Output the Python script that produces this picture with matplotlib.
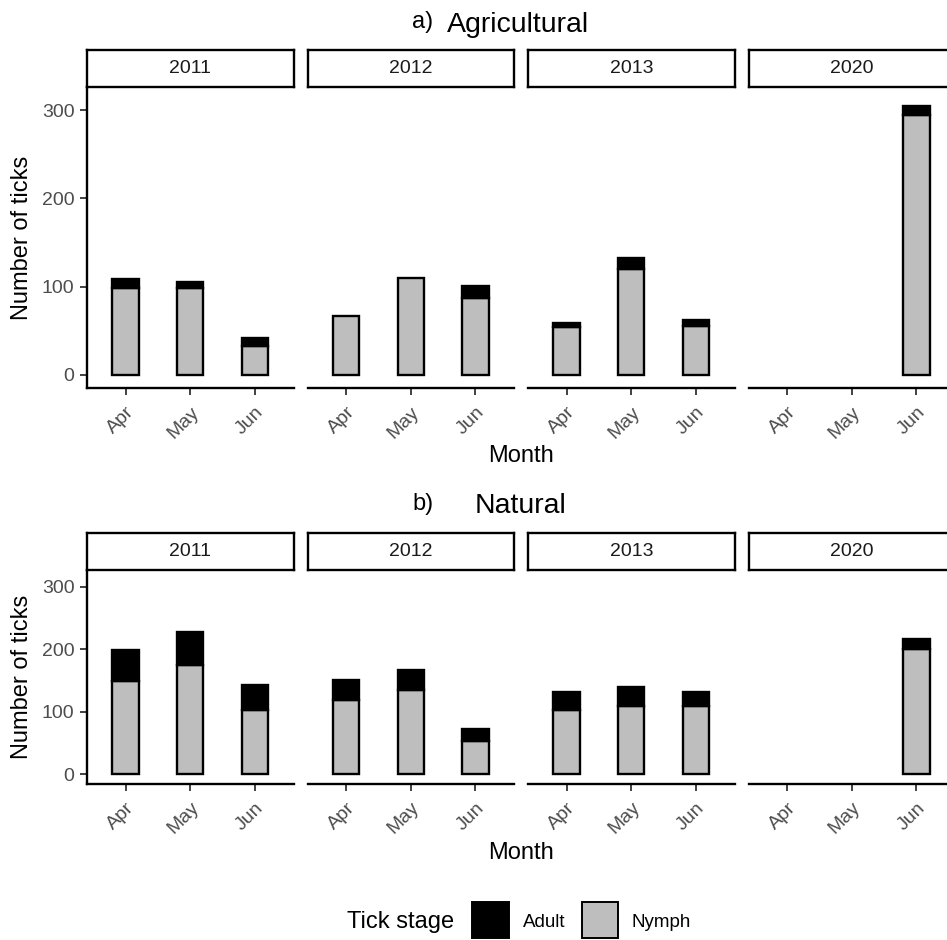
import numpy as np
import matplotlib
matplotlib.use("Agg")
import matplotlib.pyplot as plt
from matplotlib.patches import Rectangle

plt.rcParams['font.family'] = ['Liberation Sans', 'DejaVu Sans']

months = ["Apr", "May", "Jun"]
years = ["2011", "2012", "2013", "2020"]
stages = ["Adult", "Nymph"]

nan = np.nan
agri_nymph = [[98, 98, 33], [66, 110, 87], [54, 120, 55], [nan, nan, 295]]
agri_adult = [[11, 7, 9], [0, 0, 14], [5, 12, 7], [nan, nan, 10]]
nat_nymph = [[149, 175, 103], [118, 134, 54], [102, 109, 109], [nan, nan, 201]]
nat_adult = [[49, 53, 40], [33, 32, 18], [30, 31, 22], [nan, nan, 15]]

y_ticks = [0, 100, 200, 300]

W, H = 947, 940
fig = plt.figure(figsize=(W / 100, H / 100), dpi=100)


def fx(x):
    return x / W


def fy(y):
    return 1 - y / H


NYMPH_C = "#BEBEBE"
ADULT_C = "#000000"
LW = 1.7
lefts = [87, 307.5, 528, 748.5]
pw = 206.5


def draw_block(nymph, adult, top, bottom, strip_top, title_prefix, title_text,
               pre_base, title_base, pre_x, title_x, month_base):
    for i, yr in enumerate(years):
        ax = fig.add_axes([fx(lefts[i]), fy(bottom), fx(pw), (bottom - top) / H])
        n = np.array(nymph[i], dtype=float)
        a = np.array(adult[i], dtype=float)
        x = np.arange(1, len(months) + 1)
        mask = ~np.isnan(n)
        ax.bar(x[mask], n[mask], width=0.41, color=NYMPH_C, edgecolor="black",
               linewidth=LW, zorder=2)
        am = mask & (np.nan_to_num(a) > 0)
        ax.bar(x[am], a[am], bottom=n[am], width=0.41, color=ADULT_C,
               edgecolor="black", linewidth=LW, zorder=2)
        ax.set_xlim(0.4, 3.6)
        ax.set_ylim(-15.5, 326.5)
        ax.set_xticks(x)
        ax.set_xticklabels(months, rotation=45, ha="right", va="top",
                           rotation_mode="anchor", fontsize=14, color="#4D4D4D")
        ax.tick_params(axis="x", length=5, width=1.3, color="#333333", pad=6)
        for s in ["top", "right"]:
            ax.spines[s].set_visible(False)
        ax.spines["bottom"].set_linewidth(1.7)
        if i == 0:
            ax.spines["left"].set_linewidth(1.7)
            ax.set_yticks(y_ticks)
            ax.set_yticklabels([str(t) for t in y_ticks], fontsize=14, color="#4D4D4D")
            ax.tick_params(axis="y", length=5, width=1.3, color="#333333", pad=4)
        else:
            ax.spines["left"].set_visible(False)
            ax.set_yticks([])
        ax.set_facecolor("none")
        # strip
        sax = fig.add_axes([fx(lefts[i]), fy(top - 0.5), fx(pw), (top - 0.5 - strip_top) / H])
        sax.set_xticks([])
        sax.set_yticks([])
        for s in sax.spines.values():
            s.set_linewidth(1.7)
            s.set_color("black")
        sax.text(0.5, 0.5, yr, ha="center", va="center", fontsize=14,
                 color="#1A1A1A", transform=sax.transAxes)
    # y label
    fig.text(fx(22), fy((top + bottom) / 2), "Number of ticks", rotation=90,
             ha="center", va="center", fontsize=17)
    # x label
    fig.text(fx(521), fy(month_base), "Month", ha="center", va="baseline", fontsize=17)
    # title
    fig.text(fx(pre_x), fy(pre_base), title_prefix, ha="left", va="baseline", fontsize=17)
    fig.text(fx(title_x), fy(title_base), title_text, ha="left", va="baseline", fontsize=20.5)


draw_block(agri_nymph, agri_adult, top=87, bottom=388.3, strip_top=50,
           title_prefix="a)", title_text="Agricultural", pre_base=28, title_base=32,
           pre_x=412, title_x=447, month_base=462)
draw_block(nat_nymph, nat_adult, top=570, bottom=784, strip_top=533,
           title_prefix="b)", title_text="Natural", pre_base=510, title_base=513,
           pre_x=412, title_x=475, month_base=859)

# legend
fig.text(fx(347), fy(928), "Tick stage", ha="left", va="baseline", fontsize=17)
fig.patches.append(Rectangle((fx(472), fy(938)), fx(37), 36 / H, transform=fig.transFigure,
                             facecolor=ADULT_C, edgecolor="black", linewidth=1.4))
fig.text(fx(522.5), fy(927), stages[0], ha="left", va="baseline", fontsize=13.5)
fig.patches.append(Rectangle((fx(582), fy(938)), fx(36), 36 / H, transform=fig.transFigure,
                             facecolor=NYMPH_C, edgecolor="black", linewidth=1.4))
fig.text(fx(631.5), fy(927), stages[1], ha="left", va="baseline", fontsize=13.5)

fig.savefig("out.png", dpi=100)
